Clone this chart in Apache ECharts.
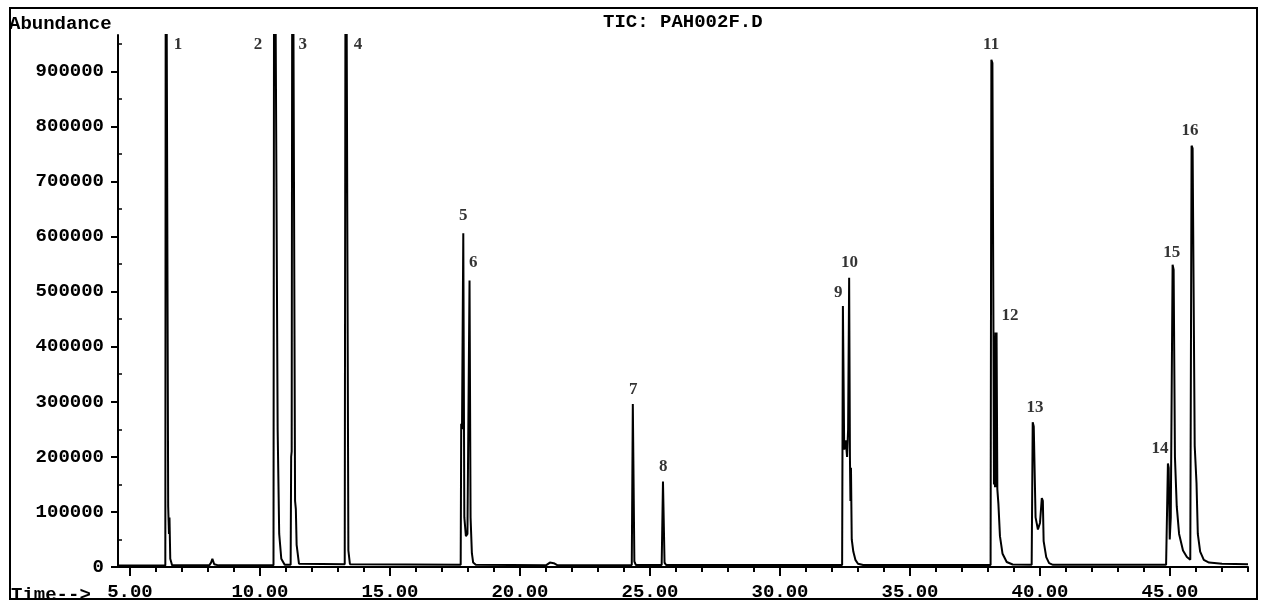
<!DOCTYPE html>
<html>
<head>
<meta charset="utf-8">
<title>TIC: PAH002F.D</title>
<script src="https://cdn.jsdelivr.net/npm/echarts@6/dist/echarts.min.js"></script>
<style>
  html, body { margin: 0; padding: 0; background: #fff; }
  #chart { width: 1261px; height: 602px; }
</style>
</head>
<body>
<div id="chart"></div>
<script>
// retention time (min) of each point of the TIC trace
var traceTime = [
	4.56, 6.00, 6.36, 6.38, 6.44, 6.47, 6.50, 6.52, 6.55, 6.62,
	8.05, 8.12, 8.17, 8.24, 8.40,
	10.52, 10.55, 10.62, 10.68, 10.74, 10.82, 10.95,
	11.18, 11.20, 11.22, 11.25, 11.31, 11.35, 11.38, 11.41, 11.50,
	13.26, 13.30, 13.36, 13.40, 13.46,
	17.72, 17.74, 17.77, 17.82, 17.86, 17.92, 17.98, 18.06, 18.10, 18.15, 18.20, 18.30,
	21.00, 21.15, 21.30, 21.45,
	24.30, 24.34, 24.36, 24.40, 24.46,
	25.45, 25.50, 25.52, 25.56, 25.62,
	32.39, 32.42, 32.47, 32.53, 32.58, 32.62, 32.66, 32.69, 32.71, 32.73, 32.76, 32.82, 32.90, 33.00, 33.20,
	38.10, 38.13, 38.17, 38.21, 38.23, 38.25, 38.27, 38.29, 38.31, 38.33, 38.36, 38.40, 38.46, 38.56, 38.72, 38.95,
	39.68, 39.72, 39.76, 39.83, 39.92, 40.00, 40.07, 40.11, 40.14, 40.18, 40.24, 40.35, 40.50,
	44.85, 44.92, 44.95, 44.99, 45.03, 45.10, 45.14, 45.19, 45.26, 45.35, 45.50, 45.65, 45.78,
	45.83, 45.87, 45.95, 46.02, 46.07, 46.16, 46.30, 46.50, 47.00, 48.00
];

// abundance at each of those times (peaks 1-4 run off scale)
var traceAbund = [
	2500, 2500, 2500, 1500000, 1500000, 110000, 60000, 90000, 15000, 3000,
	3000, 8000, 15000, 5000, 3000,
	3000, 1500000, 1500000, 250000, 60000, 15000, 4000,
	4000, 200000, 210000, 1500000, 1500000, 120000, 105000, 40000, 6000,
	5000, 1500000, 1500000, 30000, 5000,
	4000, 260000, 250000, 606000, 90000, 56000, 60000, 520000, 90000, 25000, 8000, 4000,
	3000, 8000, 7000, 3000,
	3500, 296000, 296000, 10000, 3500,
	3500, 155000, 155000, 8000, 3500,
	3500, 474000, 213000, 230000, 200000, 250000, 525000, 200000, 120000, 180000, 50000, 28000, 13000, 6000, 3500,
	3500, 921000, 915000, 430000, 150000, 420000, 145000, 426000, 145000, 426000, 141000, 115000, 56000, 24000, 9000, 4500,
	4000, 263000, 255000, 90000, 68000, 80000, 125000, 120000, 47000, 45000, 18000, 7000, 4000,
	4000, 188000, 180000, 50000, 90000, 549000, 540000, 200000, 110000, 60000, 30000, 18000, 13000,
	765000, 760000, 220000, 152000, 60000, 28000, 13000, 8000, 6000, 5000
];

// peak numbers and where their labels sit (time, abundance)
var peakLabels = ['1', '2', '3', '4', '5', '6', '7', '8', '9', '10', '11', '12', '13', '14', '15', '16'];
var labelTimes = [6.85, 9.92, 11.65, 13.77, 17.82, 18.20, 24.36, 25.51, 32.24, 32.67, 38.12, 38.85, 39.81, 44.62, 45.07, 45.77];
var labelValues = [948000, 948000, 948000, 948000, 638000, 552000, 323000, 182000, 498000, 552000, 948000, 456000, 289000, 215000, 570000, 792000];

// axis ticks
var xMajorTicks = [5, 10, 15, 20, 25, 30, 35, 40, 45];
var xMinorTicks = [5, 6, 7, 8, 9, 10, 11, 12, 13, 14, 15, 16, 17, 18, 19, 20, 21, 22, 23, 24, 25, 26,
	27, 28, 29, 30, 31, 32, 33, 34, 35, 36, 37, 38, 39, 40, 41, 42, 43, 44, 45, 46, 47, 48];
var yMajorTicks = [0, 100000, 200000, 300000, 400000, 500000, 600000, 700000, 800000, 900000];
var yMinorTicks = [50000, 150000, 250000, 350000, 450000, 550000, 650000, 750000, 850000, 950000];

var MONO = '"Liberation Mono", "DejaVu Sans Mono", monospace';

var chart = echarts.init(document.getElementById('chart'));

var traceData = traceTime.map(function(t, i) {
	return [t, traceAbund[i]];
});
var labelData = labelTimes.map(function(t, i) {
	return [t, labelValues[i]];
});

chart.setOption({
	animation: false,
	backgroundColor: '#fff',
	title: {
		text: 'TIC: PAH002F.D',
		left: 598,
		top: 8,
		textStyle: {
			fontFamily: MONO,
			fontWeight: 'bold',
			fontSize: 19,
			color: '#000'
		}
	},
	grid: {
		left: 118,
		right: 13,
		top: 35,
		bottom: 31
	},
	graphic: [{
		type: 'rect',
		shape: { x: 10, y: 8, width: 1247, height: 591 },
		style: { fill: null, stroke: '#000', lineWidth: 2 },
		z: -1
	}, {
		type: 'text',
		x: 9,
		y: 15,
		style: { text: 'Abundance', font: 'bold 19px ' + MONO, fill: '#000' }
	}, {
		type: 'text',
		x: 11,
		y: 586,
		style: { text: 'Time-->', font: 'bold 19px ' + MONO, fill: '#000' }
	}],
	xAxis: [{
		type: 'value',
		min: 4.54,
		max: 48.0,
		position: 'bottom',
		axisLine: { lineStyle: { color: '#000', width: 2 } },
		axisTick: { customValues: xMajorTicks, length: 9, lineStyle: { color: '#000', width: 2 } },
		axisLabel: {
			customValues: xMajorTicks,
			formatter: function(v) { return v.toFixed(2); },
			margin: 16,
			fontFamily: MONO,
			fontWeight: 'bold',
			fontSize: 19,
			color: '#000'
		},
		splitLine: { show: false }
	}, {
		// minor ticks, one per minute
		type: 'value',
		min: 4.54,
		max: 48.0,
		position: 'bottom',
		axisLine: { show: false },
		axisTick: { customValues: xMinorTicks, length: 5, lineStyle: { color: '#000', width: 2 } },
		axisLabel: { show: false },
		splitLine: { show: false }
	}],
	yAxis: [{
		type: 'value',
		min: 0,
		max: 966000,
		position: 'left',
		axisLine: { show: true, lineStyle: { color: '#000', width: 2 } },
		axisTick: { show: true, customValues: yMajorTicks, length: 7, lineStyle: { color: '#000', width: 2 } },
		axisLabel: {
			customValues: yMajorTicks,
			formatter: function(v) { return String(v); },
			margin: 14,
			fontFamily: MONO,
			fontWeight: 'bold',
			fontSize: 19,
			color: '#000'
		},
		splitLine: { show: false }
	}, {
		type: 'value',
		min: 0,
		max: 966000,
		position: 'left',
		axisLine: { show: false },
		axisTick: { show: true, inside: true, customValues: yMinorTicks, length: 4, lineStyle: { color: '#000', width: 1.5 } },
		axisLabel: { show: false },
		splitLine: { show: false }
	}],
	series: [{
		name: 'TIC',
		type: 'line',
		data: traceData,
		showSymbol: false,
		clip: true,
		lineStyle: { color: '#000', width: 2 },
		z: 3
	}, {
		name: 'peaks',
		type: 'scatter',
		data: labelData,
		symbolSize: 0,
		silent: true,
		label: {
			show: true,
			position: 'inside',
			formatter: function(p) { return peakLabels[p.dataIndex]; },
			fontFamily: '"Liberation Serif", serif',
			fontWeight: 'bold',
			fontSize: 17,
			color: '#000'
		}
	}]
});
</script>
</body>
</html>
